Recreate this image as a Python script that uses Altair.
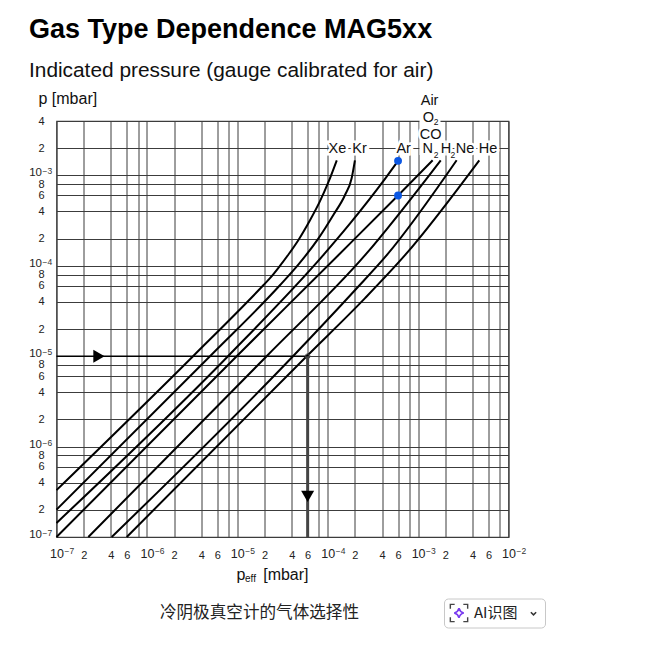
import altair as alt
import pandas as pd

FONT = "Liberation Sans"
TITLE = "Gas Type Dependence MAG5xx"
SUBTITLE = "Indicated pressure (gauge calibrated for air)"
CAPTION = "冷阴极真空计的气体选择性"

xe_x = [1e-7, 3.24e-6, 1.94e-5, 2.30e-5, 2.96e-5, 3.73e-5, 4.73e-5, 6.37e-5, 8.22e-5, 1.02e-4, 1.26e-4]
xe_y = [3.30e-7, 1e-5, 6.09e-5, 7.30e-5, 9.98e-5, 1.36e-4, 1.92e-4, 3.19e-4, 5.19e-4, 8.47e-4, 1.47e-3]
kr_x = [1e-7, 4.99e-6, 2.96e-5, 4.73e-5, 7.87e-5, 1.15e-4, 1.55e-4, 1.84e-4, 2.00e-4]
kr_y = [2.01e-7, 1e-5, 6.09e-5, 1.03e-4, 2.00e-4, 3.63e-4, 6.04e-4, 9.31e-4, 1.47e-3]
ar_x = [1e-7, 7.89e-6, 8.93e-5, 1.77e-4, 4.12e-4, 6.00e-4]
ar_y = [1.43e-7, 1e-5, 1.31e-4, 2.94e-4, 8.63e-4, 1.45e-3]
n2_x = [1e-7, 9.84e-6, 1.31e-4, 6.00e-4, 1.45e-3]
n2_y = [1e-7, 1e-5, 1.31e-4, 6.00e-4, 1.47e-3]
h2_x = [2.25e-7, 2.11e-5, 2.59e-4, 1.78e-3]
h2_y = [1e-7, 1e-5, 1.31e-4, 1.47e-3]
ne_x = [4.08e-7, 4.13e-5, 2.00e-4, 4.50e-4, 2.67e-3]
ne_y = [1e-7, 1e-5, 5.37e-5, 1.31e-4, 1.47e-3]
he_x = [5.98e-7, 5.86e-5, 2.59e-4, 7.16e-4, 4.75e-3]
he_y = [1e-7, 1e-5, 4.39e-5, 1.31e-4, 1.47e-3]

series = {"Xe": (xe_x, xe_y), "Kr": (kr_x, kr_y), "Ar": (ar_x, ar_y), "N2": (n2_x, n2_y),
          "H2": (h2_x, h2_y), "Ne": (ne_x, ne_y), "He": (he_x, he_y)}

x_ticks = [m * 10.0 ** e for e in range(-7, -2) for m in (1, 2, 4, 6, 8)] + [1e-2]
y_ticks = [m * 10.0 ** e for e in range(-7, -3) for m in (1, 2, 4, 6, 8)] + [1e-3, 2e-3, 4e-3]
x_decades = [1e-7, 1e-6, 1e-5, 1e-4, 1e-3, 1e-2]
x_exps = ["−7", "−6", "−5", "−4", "−3", "−2"]
y_decades = [1e-7, 1e-6, 1e-5, 1e-4, 1e-3]
y_exps = ["−7", "−6", "−5", "−4", "−3"]

gas_text = ["Xe", "Kr", "Ar", "N", "H", "Ne", "He", "Air", "O", "CO"]
gas_x = [1.28e-4, 2.25e-4, 6.93e-4, 1.28e-3, 2.03e-3, 3.30e-3, 5.93e-3, 1.34e-3, 1.30e-3, 1.38e-3]
gas_y = [2e-3, 2e-3, 2e-3, 2e-3, 2e-3, 2e-3, 2e-3, 6.84e-3, 4.41e-3, 2.90e-3]
sub_x = [1.58e-3, 2.42e-3, 1.58e-3]
sub_y = [1.7e-3, 1.7e-3, 3.9e-3]
sub_text = ["2", "2", "2"]

dots_x = [6e-4, 6e-4]
dots_y = [1.45e-3, 6.0e-4]

df = pd.DataFrame([
    {"gas": g, "i": i, "peff": a, "p": b}
    for g, (xs, ys) in series.items()
    for i, (a, b) in enumerate(zip(xs, ys))
])

xscale = alt.Scale(type="log", domain=[1e-7, 1e-2], nice=False)
yscale = alt.Scale(type="log", domain=[1e-7, 4e-3], nice=False)

mant = "slice(format(datum.value, '.0e'), 0, 1)"
is10 = f"{mant} === '1'"

x_axis = alt.Axis(
    values=x_ticks, grid=True, gridColor="#3c3c3c", gridWidth=1, ticks=False, domain=False,
    labelExpr=f"{mant} === '1' ? '10' : ({mant} === '8' ? '' : {mant})",
    labelFont=FONT, labelColor="#222", labelAngle=0, labelAlign="center",
    labelFontSize={"condition": {"test": is10, "value": 12.5}, "value": 11},
    labelPadding={"condition": {"test": is10, "value": 10}, "value": 12},
    labelOverlap=False, labelBound=False, labelFlush=False,
    title="p\u00a0\u00a0\u00a0\u00a0[mbar]", titleFont=FONT, titleFontSize=16, titleFontWeight="normal",
    titleColor="#111", titleX=179.5, titleY=37, titleAlign="left", titleBaseline="middle",
)
y_axis = alt.Axis(
    values=y_ticks, grid=True, gridColor="#3c3c3c", gridWidth=1, ticks=False, domain=False,
    labelExpr=mant + " === '1' ? '10' : " + mant,
    labelFont=FONT, labelColor="#222", labelAlign="right",
    labelFontSize={"condition": {"test": is10, "value": 11.5}, "value": 11},
    labelPadding={"condition": {"test": is10, "value": 15}, "value": 12.5},
    labelOffset={"condition": {"test": is10, "value": -2.5}, "value": 0},
    labelOverlap=False, labelBound=False, labelFlush=False, labelBaseline="middle",
    title="p [mbar]", titleFont=FONT, titleFontSize=16, titleFontWeight="normal",
    titleColor="#111", titleAngle=0, titleX=-18.5, titleY=-23, titleAlign="left", titleBaseline="middle",
)


def X(f="x"):
    return alt.X(f, type="quantitative", scale=xscale, axis=x_axis)


def Y(f="y"):
    return alt.Y(f, type="quantitative", scale=yscale, axis=y_axis)


curves = alt.Chart(df).mark_line(color="#000", strokeWidth=2, interpolate="monotone", clip=False).encode(
    x=X("peff"),
    y=Y("p"),
    detail="gas:N",
    order="i:Q",
)

mask = alt.Chart(pd.DataFrame({"a": [1]})).mark_rect(fill="white").encode(
    x=alt.value(363), x2=alt.value(384), y=alt.value(-2), y2=alt.value(34)
)

labels_df = pd.DataFrame({"x": gas_x, "y": gas_y, "t": gas_text})
label_halo = alt.Chart(labels_df).mark_text(
    font=FONT, fontSize=14.5, stroke="white", strokeWidth=5, color="white", dy=1
).encode(x=X(), y=Y(), text="t:N")
label_text = alt.Chart(labels_df).mark_text(font=FONT, fontSize=14.5, color="#111", dy=1).encode(
    x=X(), y=Y(), text="t:N"
)
sub_df = pd.DataFrame({"x": sub_x, "y": sub_y, "t": sub_text})
sub_labels = alt.Chart(sub_df).mark_text(font=FONT, fontSize=8.5, color="#111").encode(
    x=X(), y=Y(), text="t:N"
)

x_exp = alt.Chart(pd.DataFrame({"x": x_decades, "y": [1e-7] * 6, "t": x_exps})).mark_text(
    font=FONT, fontSize=8.5, color="#333", align="left", dx=8, dy=14
).encode(x=X(), y=Y(), text="t:N")
y_exp = alt.Chart(pd.DataFrame({"y": y_decades, "t": y_exps})).mark_text(
    font=FONT, fontSize=8.5, color="#333", align="left", dy=-4
).encode(x=alt.value(-14), y=Y(), text="t:N")
eff = alt.Chart(pd.DataFrame({"a": [1], "t": ["eff"]})).mark_text(
    font=FONT, fontSize=10, color="#111", align="left"
).encode(x=alt.value(188.5), y=alt.value(458), text="t:N")

h_arrow = alt.Chart(pd.DataFrame({"x": [1e-7], "x2": [6e-5], "y": [1e-5]})).mark_rule(
    color="#000", strokeWidth=1.6
).encode(x=X(), x2="x2:Q", y=Y())
v_arrow = alt.Chart(pd.DataFrame({"x": [6e-5], "y": [1e-5], "y2": [1e-7]})).mark_rule(
    color="#444", strokeWidth=3
).encode(x=X(), y=Y(), y2="y2:Q")
head_r = alt.Chart(pd.DataFrame({"x": [2.95e-7], "y": [1e-5]})).mark_point(
    shape="triangle-right", filled=True, color="#000", size=170, opacity=1
).encode(x=X(), y=Y())
head_d = alt.Chart(pd.DataFrame({"x": [6e-5], "y": [2.82e-7]})).mark_point(
    shape="triangle-down", filled=True, color="#000", size=170, opacity=1
).encode(x=X(), y=Y())
ring = alt.Chart(pd.DataFrame({"x": [6e-5], "y": [1e-5]})).mark_point(
    shape="circle", filled=False, color="#444", size=22, strokeWidth=1, opacity=1
).encode(x=X(), y=Y())
dots = alt.Chart(pd.DataFrame({"x": dots_x, "y": dots_y})).mark_point(
    shape="circle", filled=True, color="#0b57e3", size=62, opacity=1
).encode(x=X(), y=Y())

caption = alt.Chart(pd.DataFrame({"a": [1], "t": [CAPTION]})).mark_text(
    font="Noto Sans CJK SC", fontSize=16.6, color="#222"
).encode(x=alt.value(203), y=alt.value(492), text="t:N")
button = alt.Chart(pd.DataFrame({"a": [1]})).mark_rect(
    fill="white", stroke="#c8c8c8", strokeWidth=1, cornerRadius=4
).encode(x=alt.value(388), x2=alt.value(489), y=alt.value(478), y2=alt.value(507))
button_text = alt.Chart(pd.DataFrame({"a": [1], "t": ["AI识图"]})).mark_text(
    font="Noto Sans CJK SC", fontSize=15, color="#222", align="left"
).encode(x=alt.value(417.5), y=alt.value(492), text="t:N")
corners = "M-1,-0.5 L-1,-1 L-0.5,-1 M0.5,-1 L1,-1 L1,-0.5 M1,0.5 L1,1 L0.5,1 M-0.5,1 L-1,1 L-1,0.5"
icon = alt.Chart(pd.DataFrame({"a": [1]})).mark_point(
    shape=corners, filled=False, color="#444", size=300, strokeWidth=1.4, opacity=1
).encode(x=alt.value(402.5), y=alt.value(492))
star = "M0,-1 Q0.2,-0.2 1,0 Q0.2,0.2 0,1 Q-0.2,0.2 -1,0 Q-0.2,-0.2 0,-1Z"
sparkle = alt.Chart(pd.DataFrame({"a": [1]})).mark_point(
    shape=star, filled=False, color="#7a3cf0", size=90, strokeWidth=1.6, opacity=1
).encode(x=alt.value(402.5), y=alt.value(492))
chevron = alt.Chart(pd.DataFrame({"a": [1]})).mark_point(
    shape="M-1,-0.5 L0,0.5 L1,-0.5", filled=False, color="#333", size=28, strokeWidth=1.5, opacity=1
).encode(x=alt.value(477), y=alt.value(492.5))

chart = alt.layer(
    curves, mask, label_halo, label_text, sub_labels, x_exp, y_exp, eff,
    h_arrow, v_arrow, head_r, head_d, ring, dots,
    caption, button, button_text, icon, sparkle, chevron,
).properties(
    width=452,
    height=416,
    padding={"left": 48.5, "top": 113, "right": 128.5, "bottom": 119},
    autosize=alt.AutoSizeParams(type="none"),
    title=alt.TitleParams(
        text=TITLE, subtitle=SUBTITLE, anchor="start", frame="group", dx=-27.5, offset=8,
        font=FONT, fontSize=27, fontWeight="bold", color="#000",
        subtitleFont=FONT, subtitleFontSize=20.85, subtitleColor="#111", subtitlePadding=17,
    ),
).configure_view(stroke="#3c3c3c", strokeWidth=1.2)

chart.save("out.html", embed_options={"renderer": "svg", "actions": False})
